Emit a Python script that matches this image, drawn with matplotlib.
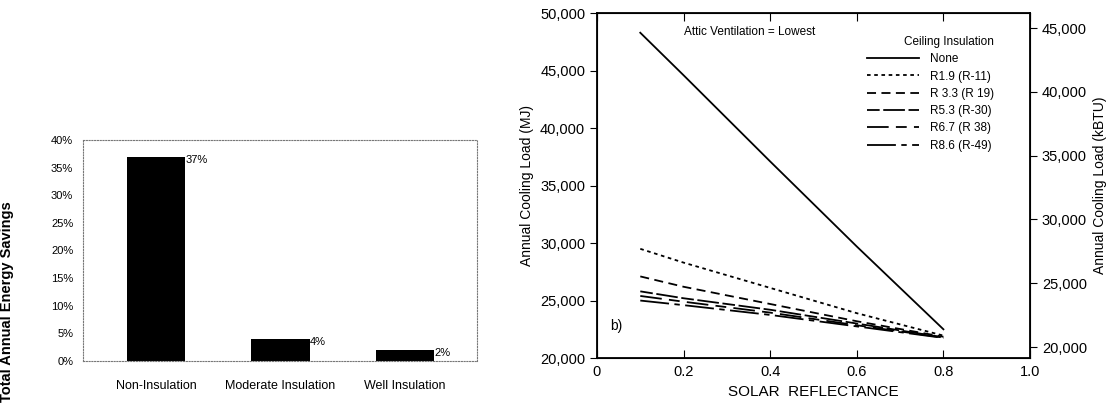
import matplotlib.pyplot as plt
from matplotlib.ticker import FuncFormatter

plt.rcParams['font.family'] = ['Liberation Sans', 'DejaVu Sans']

# left panel: savings by insulation level
categories = ["Non-Insulation", "Moderate Insulation", "Well Insulation"]
savings = [37, 4, 2]

# right panel: annual cooling load (MJ) vs solar reflectance
reflectance = [0.1, 0.2, 0.4, 0.6, 0.8]
load_none = [48300, 44600, 37100, 29700, 22500]
load_r19 = [29500, 28300, 26100, 23900, 21950]
load_r33 = [27100, 26200, 24700, 23200, 21850]
load_r53 = [25800, 25200, 24200, 23000, 21800]
load_r67 = [25400, 24900, 23950, 22850, 21780]
load_r86 = [25000, 24600, 23750, 22750, 21750]
series_labels = ["None", "R1.9 (R-11)", "R 3.3 (R 19)", "R5.3 (R-30)", "R6.7 (R 38)", "R8.6 (R-49)"]
styles = ['-', (0, (2, 2)), (0, (5, 3)), (0, (7, 2, 12, 2)), (0, (12, 4, 6, 4)), (0, (16, 3, 3, 3))]

fig = plt.figure(figsize=(11.15, 4.12), dpi=100)

# ---- left bar chart ----
ax1 = fig.add_axes([0.0744, 0.124, 0.3536, 0.536])
pos = list(range(len(categories)))
ax1.bar(pos, savings, width=0.47, color='black')
for p, v in zip(pos, savings):
    ax1.text(p + 0.235, v + 0.3, f"{v}%", ha='left', va='top', fontsize=8)
ax1.set_xlim(-0.586, 2.578)
ax1.set_ylim(0, 40)
ax1.set_yticks(range(0, 41, 5))
ax1.yaxis.set_major_formatter(FuncFormatter(lambda v, _: f"{int(v)}%"))
ax1.set_xticks(pos)
ax1.set_xticklabels(categories, fontsize=9)
ax1.tick_params(axis='y', labelsize=8, length=0, pad=7)
ax1.tick_params(axis='x', length=0, pad=14)
for s in ax1.spines.values():
    s.set_linestyle((0, (1, 1.5)))
    s.set_color('#777777')
    s.set_linewidth(0.8)
ax1.set_ylabel("Total Annual Energy Savings", fontsize=10.5, fontweight='bold')
ax1.yaxis.set_label_coords(-0.175, 0.27)

# ---- right line chart ----
ax2 = fig.add_axes([0.5354, 0.131, 0.3884, 0.837])
all_loads = [load_none, load_r19, load_r33, load_r53, load_r67, load_r86]
for loads, lab, ls in zip(all_loads, series_labels, styles):
    ax2.plot(reflectance, loads, color='black', linestyle=ls, linewidth=1.3, label=lab)
ax2.set_xlim(0, 1.0)
ax2.set_ylim(20000, 50000)
ax2.set_xticks([0, 0.2, 0.4, 0.6, 0.8, 1.0])
ax2.set_xticklabels(["0", "0.2", "0.4", "0.6", "0.8", "1.0"])
ax2.set_yticks(range(20000, 50001, 5000))
ax2.yaxis.set_major_formatter(FuncFormatter(lambda v, _: f"{int(v):,}"))
ax2.tick_params(axis='x', direction='in', top=True, length=6, labelsize=10.5, pad=5)
ax2.tick_params(axis='y', direction='out', length=5, labelsize=10.5)
for s in ax2.spines.values():
    s.set_linewidth(1.3)
ax2.set_xlabel("SOLAR  REFLECTANCE", fontsize=11)
ax2.set_ylabel("Annual Cooling Load (MJ)", fontsize=10)
ax2.text(0.2, 0.945, "Attic Ventilation = Lowest", transform=ax2.transAxes,
         fontsize=8.5, va='center')
ax2.text(0.03, 0.08, "b)", transform=ax2.transAxes, fontsize=10)
leg = ax2.legend(loc='upper left', bbox_to_anchor=(0.6, 0.965), frameon=False,
                 title="Ceiling Insulation", fontsize=8.5, title_fontsize=8.5,
                 handlelength=4.4, handletextpad=0.9, labelspacing=0.45)
leg._legend_box.align = 'right'

# secondary axis in kBTU (matched to the printed scale)
ax3 = ax2.twinx()
ax3.set_ylim(19138, 46175)
ax3.set_yticks(range(20000, 45001, 5000))
ax3.yaxis.set_major_formatter(FuncFormatter(lambda v, _: f"{int(v):,}"))
ax3.tick_params(axis='y', direction='out', length=5, labelsize=10.5)
ax3.set_ylabel("Annual Cooling Load (kBTU)", fontsize=10)

fig.savefig("out.png", dpi=100)
